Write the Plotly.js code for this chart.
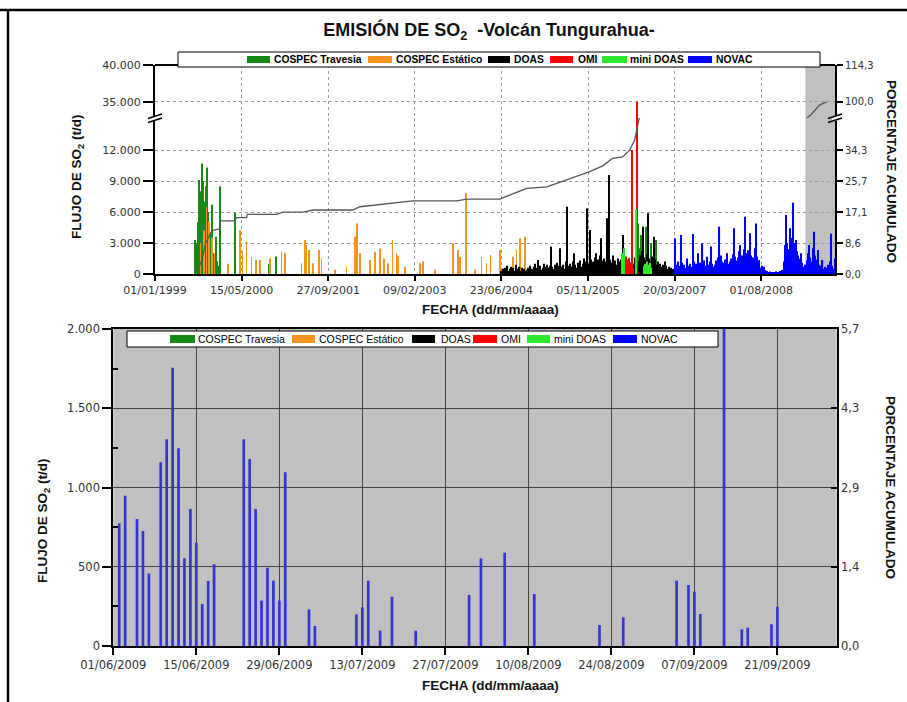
<!DOCTYPE html>
<html><head><meta charset="utf-8">
<script src="https://cdn.plot.ly/plotly-3.0.1.min.js"></script>
<style>html,body{margin:0;padding:0;background:#fff}#chart{width:907px;height:702px}</style>
</head><body><div id="chart"></div>
<script>
// ===================== DATA =====================
const seriesNames = ['COSPEC Travesia', 'COSPEC Estático', 'DOAS', 'OMI', 'mini DOAS', 'NOVAC'];

// COSPEC Travesia (t/d)
const travesiaDates = ['1999-08-20','1999-08-25','1999-08-30','1999-09-04','1999-09-09','1999-09-14','1999-09-19','1999-09-24','1999-09-29','1999-10-04','1999-10-09','1999-10-14','1999-10-19','1999-10-24','1999-10-29','1999-11-03','1999-11-08','1999-11-13','1999-11-18','1999-11-23','1999-11-28','1999-12-03','1999-12-10','1999-12-17','1999-12-24','2000-01-05','2000-01-11','2000-04-07','2000-10-20','2000-11-29','2001-01-20','2006-08-06','2006-08-20','2006-08-27','2006-09-08','2006-09-20','2006-10-07','2006-10-20','2006-11-05','2006-11-20','2006-12-03'];
const travesiaValues = [3300,2500,3000,5000,7500,9100,6000,8000,10700,9000,5500,4600,7000,8500,10300,6000,3500,4000,2500,3000,6700,2000,1500,3600,1200,800,8500,5900,1000,1700,900,5550,4900,2500,3770,2000,4580,2200,3000,1500,3290];

// COSPEC Estático (t/d)
const estaticoDates = ['1999-09-20','1999-10-10','1999-10-25','1999-11-10','1999-11-25','1999-12-10','2000-02-27','2000-05-05','2000-05-21','2000-06-13','2000-07-12','2000-08-06','2000-08-29','2000-10-25','2001-01-01','2001-01-20','2001-04-26','2001-05-15','2001-05-25','2001-06-09','2001-07-02','2001-08-06','2001-08-20','2001-11-04','2002-01-11','2002-02-28','2002-03-13','2002-03-29','2002-05-25','2002-06-23','2002-07-22','2002-08-14','2002-09-08','2002-10-03','2002-10-26','2002-11-05','2002-12-13','2003-03-10','2003-03-29','2003-06-04','2003-09-18','2003-10-17','2003-10-27','2003-11-30','2004-01-21','2004-02-29','2004-03-29','2004-04-21','2004-06-13','2004-08-29','2004-09-18','2004-10-07','2004-11-05'];
const estaticoValues = [3000,4200,6500,5000,3500,2000,1000,4260,2300,3130,1680,1350,1350,1520,2160,2000,1030,3290,2800,2320,1030,2320,1500,400,700,3610,4900,2000,1350,2150,2480,1500,1030,3290,2000,1800,700,1030,1200,400,2970,2320,1680,7810,400,1680,1030,1840,2320,1680,2320,3450,3600];

// DOAS: weekly readings starting 2004-06-23
const doasStart = '2004-06-23';
const doasStepDays = 7;
const doasValues = [300,500,200,600,400,800,300,500,700,400,600,
  300,900,500,400,700,300,600,400,500,300,
  400,600,300,800,500,400,700,1000,600,1355,
  500,800,400,600,1000,700,500,900,600,800,
  2645,700,500,900,600,1100,800,2484,700,600,
  900,500,1200,6516,800,600,1000,700,1200,2000,
  900,600,1100,800,1300,700,1000,1500,900,1200,
  6355,1000,4258,1400,900,1200,1600,2000,1100,1400,
  1800,3452,1300,1000,1500,1200,5387,1600,9580,1400,
  1100,1800,1032,1300,900,1500,1200,800,1400,3774,
  1000,800,1200,900,1500,1100,800,1300,1000,1600,
  3000,1400,1200,1800,1500,2200,4580,1600,1300,1900,
  5870,1500,1200,1700,1000,3613,1400,900,1200,800,
  1000,700,900,600,1200,800,500,700,400,600,300,500];

// OMI (t/d)
const omiDates = ['2006-05-28','2006-06-02','2006-06-07','2006-06-12','2006-06-17','2006-06-22','2006-06-27','2006-07-02','2006-07-07','2006-07-12','2006-07-17','2006-07-22','2006-08-16'];
const omiValues = [800,1500,1200,1700,1000,1400,900,1600,1100,800,12000,600,35000];

// mini DOAS (t/d)
const miniDoasDates = ['2006-05-20','2006-06-01','2006-08-10','2006-09-25','2006-10-02','2006-10-09','2006-10-16','2006-10-23','2006-10-30','2006-11-06'];
const miniDoasValues = [2000,2500,6300,800,1000,1200,900,700,1100,600];

// NOVAC: weekly readings starting 2007-03-20
const novacStart = '2007-03-20';
const novacStepDays = 7;
const novacValues = [3450,900,600,1200,800,3770,1100,700,900,600,
  1500,800,500,1000,700,3870,1200,800,1000,2000,
  700,1100,900,2970,1300,800,600,1680,900,1200,
  2650,1000,700,900,1300,1100,1600,4580,1800,1200,
  900,1100,1400,2000,1000,800,1200,1500,1900,4420,
  1700,1300,1600,2200,2800,1400,1800,2400,5550,2000,
  1500,2300,3940,1800,1200,1600,2500,4900,1700,1000,
  1350,600,800,500,700,400,300,200,150,250,
  100,200,150,100,250,200,100,300,200,400,
  1200,2800,5710,3000,2400,4420,3500,2600,6900,3000,
  3290,2200,1800,1500,2000,1100,700,500,900,1300,
  2000,2800,1600,1200,2500,4100,1800,1400,2320,900,
  600,800,1350,500,700,400,600,900,1200,3900,
  800,500,1500];

// Cumulative percentage
const cumDates = ['1999-08-20','1999-09-13','1999-09-29','1999-10-20','1999-11-26','2000-01-11','2000-01-14','2000-04-07','2000-04-13','2000-06-13','2000-06-16','2000-12-03','2001-01-08','2001-05-04','2001-07-02','2002-02-16','2002-03-29','2002-09-18','2003-01-28','2003-10-09','2003-12-06','2004-06-13','2004-08-27','2004-11-16','2005-03-12','2005-07-05','2005-11-15','2006-01-29','2006-03-27','2006-05-24','2006-07-04','2006-08-01','2006-08-21','2006-08-30','2009-05-14','2009-06-06','2009-07-05','2009-08-14'];
const cumPercent = [0.5,2.0,3.9,8.5,12.0,12.5,14.7,14.7,15.6,15.6,16.5,16.5,17.1,17.1,17.7,17.7,18.6,19.5,20.2,20.2,20.7,20.7,22.1,23.7,24.1,26.0,28.3,29.9,32.0,32.4,34.3,37.0,42.1,43.7,94.9,96.8,98.8,100.0];

// NOVAC June-September 2009 (lower chart)
const novac2009Dates = ['2009-06-02','2009-06-03','2009-06-05','2009-06-06','2009-06-07','2009-06-09','2009-06-10','2009-06-11','2009-06-12','2009-06-13','2009-06-14','2009-06-15','2009-06-16','2009-06-17','2009-06-18','2009-06-23','2009-06-24','2009-06-25','2009-06-26','2009-06-27','2009-06-28','2009-06-29','2009-06-30','2009-07-04','2009-07-05','2009-07-12','2009-07-13','2009-07-14','2009-07-16','2009-07-18','2009-07-22','2009-07-31','2009-08-02','2009-08-06','2009-08-11','2009-08-22','2009-08-26','2009-09-04','2009-09-06','2009-09-07','2009-09-08','2009-09-12','2009-09-15','2009-09-16','2009-09-20','2009-09-21'];
const novac2009Values = [775,948,801,725,458,1159,1304,1756,1247,553,864,652,265,410,515,1304,1180,864,286,494,412,286,1096,231,126,200,244,412,97,311,97,322,553,589,328,132,181,412,385,343,202,2600,105,116,137,248];

// Axis ticks
const fluxTicksLow = [0,3000,6000,9000,12000];
const fluxTicksHigh = [35000,40000];
const fluxTicksZoom = [0,500,1000,1500,2000];
const percentScale = 350; // t/d per 1 % (40000 t/d = 114,3 %)
const topDateRange = ['1999-01-01','2009-10-01'];
const topTick0 = '1999-01-01', topTickDays = 500;
const zoomDateRange = ['2009-06-01','2009-10-01'];
const zoomTick0 = '2009-06-01', zoomTickDays = 14;
const lowRange = [0, 15100], highRange = [32800, 40000], zoomRange = [0, 2000];
const shadeStart = '2009-04-13';

// ===================== STYLE / LAYOUT =====================
const colors = ['#168a16','#f7931e','#000000','#ff0000','#2ee82e','#0000ff'];
const DAY = 86400000;
const W = 907, H = 702;
const px = v => v / W;
const py = v => 1 - v / H;

const tickFont = {family: 'DejaVu Sans, sans-serif', size: 11, color: '#333'};
const tickFontB = {family: 'DejaVu Sans, sans-serif', size: 11.5, color: '#333'};
const tickFontR = {family: 'DejaVu Sans, sans-serif', size: 10, color: '#333'};

const bar = (name, extra, color, w) => Object.assign({type: 'bar', name: name, xaxis: 'x', yaxis: 'y', showlegend: false,
  width: w * DAY, marker: {color: color, line: {width: 0}}}, extra);

const data = [
  bar(seriesNames[0], {x: travesiaDates, y: travesiaValues}, colors[0], 5),
  bar(seriesNames[1], {x: estaticoDates, y: estaticoValues}, colors[1], 4),
  bar(seriesNames[2], {x0: doasStart, dx: doasStepDays * DAY, y: doasValues}, colors[2], 7),
  bar(seriesNames[3], {x: omiDates, y: omiValues}, colors[3], 4),
  bar(seriesNames[3], {x: omiDates, y: omiValues, yaxis: 'y2'}, colors[3], 4),
  bar(seriesNames[4], {x: miniDoasDates, y: miniDoasValues}, colors[4], 6),
  bar(seriesNames[5], {x0: novacStart, dx: novacStepDays * DAY, y: novacValues}, colors[5], 7),
  {type: 'scatter', mode: 'lines', name: 'Porcentaje acumulado', x: cumDates, y: cumPercent, xaxis: 'x', yaxis: 'y3',
   line: {color: '#555', width: 1.3}, showlegend: false},
  {type: 'scatter', mode: 'lines', name: 'Porcentaje acumulado', x: cumDates, y: cumPercent, xaxis: 'x', yaxis: 'y4',
   line: {color: '#555', width: 1.3}, showlegend: false},
  {type: 'bar', name: seriesNames[5], x: novac2009Dates, y: novac2009Values, xaxis: 'x2', yaxis: 'y5',
   width: 0.45 * DAY, marker: {color: '#3333d6', line: {width: 0}}, showlegend: false},
  // cumulative-percentage axis of the lower chart (no visible marks in this period)
  {type: 'scatter', mode: 'lines', name: 'Porcentaje acumulado', x: [null], y: [null], xaxis: 'x2', yaxis: 'y6',
   showlegend: false, hoverinfo: 'skip'}
];

const dotted = {showgrid: true, gridcolor: '#9a9a9a', griddash: 'dot', gridwidth: 1};
const axLine = {showline: true, linecolor: '#000', linewidth: 2, zeroline: false};

const layout = {
  width: W, height: H,
  margin: {l: 0, r: 0, t: 0, b: 0},
  paper_bgcolor: '#fff', plot_bgcolor: 'rgba(0,0,0,0)',
  separators: ',.',
  barmode: 'overlay',
  showlegend: false,
  font: {family: 'Liberation Sans, Arial, sans-serif', color: '#111'},
  title: {text: 'EMISIÓN DE SO<sub>2</sub>  -Volcán Tungurahua-', x: px(489), y: py(30), xanchor: 'center', yanchor: 'middle',
    font: {family: 'Liberation Sans, Arial, sans-serif', size: 18, weight: 'bold', color: '#111'}},
  xaxis: Object.assign({domain: [px(155), px(835)], anchor: 'y', type: 'date', range: topDateRange,
    tickmode: 'linear', tick0: topTick0, dtick: topTickDays * DAY, tickformat: '%d/%m/%Y',
    ticks: 'outside', ticklen: 5, tickwidth: 1.5, tickcolor: '#000', tickfont: tickFont}, dotted, axLine),
  yaxis: Object.assign({domain: [py(274), py(118)], anchor: 'x', range: lowRange, tickmode: 'array', tickvals: fluxTicksLow,
    tickformat: ',d', ticks: 'outside', ticklen: 10, tickwidth: 1.5, tickcolor: '#000', tickfont: tickFont}, dotted, axLine),
  yaxis2: Object.assign({domain: [py(118), py(65)], anchor: 'x', range: highRange, tickmode: 'array', tickvals: fluxTicksHigh,
    tickformat: ',d', ticks: 'outside', ticklen: 10, tickwidth: 1.5, tickcolor: '#000', tickfont: tickFont}, dotted, axLine),
  yaxis3: Object.assign({overlaying: 'y', side: 'right', anchor: 'x', range: lowRange.map(v => v / percentScale),
    tickmode: 'array', tickvals: fluxTicksLow.map(v => v / percentScale), tickformat: '.1f',
    ticks: 'outside', ticklen: 6, tickwidth: 1.5, tickcolor: '#000', tickfont: tickFontR, showgrid: false}, axLine),
  yaxis4: Object.assign({overlaying: 'y2', side: 'right', anchor: 'x', range: highRange.map(v => v / percentScale),
    tickmode: 'array', tickvals: fluxTicksHigh.map(v => v / percentScale), tickformat: '.1f',
    ticks: 'outside', ticklen: 6, tickwidth: 1.5, tickcolor: '#000', tickfont: tickFontR, showgrid: false}, axLine),
  xaxis2: Object.assign({domain: [px(113.3), px(836.7)], anchor: 'y5', type: 'date', range: zoomDateRange,
    tickmode: 'linear', tick0: zoomTick0, dtick: zoomTickDays * DAY, tickformat: '%d/%m/%Y', mirror: true,
    ticks: 'outside', ticklen: 7, tickwidth: 1.5, tickcolor: '#000', tickfont: tickFontB,
    showgrid: true, gridcolor: '#444', gridwidth: 1}, axLine),
  yaxis5: Object.assign({domain: [py(646), py(329)], anchor: 'x2', range: zoomRange, tickmode: 'array', tickvals: fluxTicksZoom,
    tickformat: ',d', ticks: 'outside', ticklen: 9, tickwidth: 1.5, tickcolor: '#000', tickfont: tickFontB,
    minor: {tickvals: [250, 750, 1250, 1750], ticks: 'inside', ticklen: 5, tickcolor: '#000', showgrid: false},
    showgrid: true, gridcolor: '#444', gridwidth: 1}, axLine),
  yaxis6: Object.assign({overlaying: 'y5', side: 'right', anchor: 'x2', range: zoomRange.map(v => v / percentScale),
    tickmode: 'array', tickvals: fluxTicksZoom.map(v => v / percentScale), tickformat: '.1f',
    ticks: 'inside', ticklen: 6, tickwidth: 1.5, tickcolor: '#000', tickfont: tickFontB, showgrid: false}, axLine),
  shapes: [],
  annotations: []
};

const S = layout.shapes, A = layout.annotations;
// shaded period in the top chart
S.push({type: 'rect', xref: 'x', x0: shadeStart, x1: topDateRange[1], yref: 'paper', y0: py(274), y1: py(65),
  fillcolor: '#c0c0c0', line: {width: 0}, layer: 'below'});
// grey background of the lower chart
S.push({type: 'rect', xref: 'x2 domain', x0: 0, x1: 1, yref: 'y5 domain', y0: 0, y1: 1,
  fillcolor: '#c0c0c0', line: {width: 0}, layer: 'below'});
// top frame line of the upper chart
S.push({type: 'line', xref: 'paper', yref: 'paper', x0: px(155), x1: px(835), y0: py(65), y1: py(65), line: {color: '#000', width: 2}, layer: 'above'});
// axis breaks
[155, 835].forEach(xc => {
  S.push({type: 'rect', xref: 'paper', yref: 'paper', x0: px(xc - 3), x1: px(xc + 3), y0: py(121), y1: py(116),
    fillcolor: '#fff', line: {width: 0}, layer: 'above'});
  S.push({type: 'line', xref: 'paper', yref: 'paper', x0: px(xc - 7), x1: px(xc + 7), y0: py(122.5), y1: py(118), line: {color: '#000', width: 1.5}, layer: 'above'});
  S.push({type: 'line', xref: 'paper', yref: 'paper', x0: px(xc - 7), x1: px(xc + 7), y0: py(118.5), y1: py(114), line: {color: '#000', width: 1.5}, layer: 'above'});
});
// figure frame
S.push({type: 'line', xref: 'paper', yref: 'paper', x0: 0, x1: 1, y0: py(10), y1: py(10), line: {color: '#000', width: 2.5}, layer: 'above'});
S.push({type: 'line', xref: 'paper', yref: 'paper', x0: px(8), x1: px(8), y0: py(10), y1: 0, line: {color: '#000', width: 2.5}, layer: 'above'});

// legends (drawn as boxes with swatches)
function legendBox(box, swatches, textX, yc, sh, font) {
  S.push({type: 'rect', xref: 'paper', yref: 'paper', x0: px(box[0]), x1: px(box[1]), y0: py(box[3]), y1: py(box[2]),
    fillcolor: '#fff', line: {color: '#000', width: 1}, layer: 'above'});
  seriesNames.forEach((nm, i) => {
    S.push({type: 'rect', xref: 'paper', yref: 'paper', x0: px(swatches[i][0]), x1: px(swatches[i][1]),
      y0: py(yc + sh / 2), y1: py(yc - sh / 2), fillcolor: colors[i], line: {width: 0}, layer: 'above'});
    A.push({text: nm, xref: 'paper', yref: 'paper', x: px(textX[i]), y: py(yc), xanchor: 'left', yanchor: 'middle',
      showarrow: false, font: font});
  });
}
legendBox([178, 820, 52, 67], [[247,270],[368,392],[488,510],[550,573],[602,627],[688,712]],
  [272, 394, 512, 576, 628, 714], 59.5, 7, {family: 'Liberation Sans, Arial, sans-serif', size: 10.3, weight: 'bold', color: '#000'});
legendBox([127, 718, 331, 347], [[170,195],[292,315],[412,435],[473,497],[527,550],[613,637]],
  [196, 317, 439, 499, 552, 639], 339, 8, {family: 'Liberation Sans, Arial, sans-serif', size: 10.5, color: '#000'});

// axis titles
const titleFont = {family: 'Liberation Sans, Arial, sans-serif', size: 13.5, weight: 'bold', color: '#111'};
const ann = (text, x, y, angle) => A.push({text: text, xref: 'paper', yref: 'paper', x: px(x), y: py(y),
  xanchor: 'center', yanchor: 'middle', textangle: angle, showarrow: false, font: titleFont});
ann('FLUJO DE SO<sub>2</sub> (t/d)', 77, 177, -90);
ann('FLUJO DE SO<sub>2</sub> (t/d)', 43, 521, -90);
ann('PORCENTAJE ACUMULADO', 892, 171, 90);
ann('PORCENTAJE ACUMULADO', 891, 487, 90);
ann('FECHA (dd/mm/aaaa)', 490, 309, 0);
ann('FECHA (dd/mm/aaaa)', 490, 685, 0);

Plotly.newPlot('chart', data, layout, {displayModeBar: false});
</script>
</body></html>
